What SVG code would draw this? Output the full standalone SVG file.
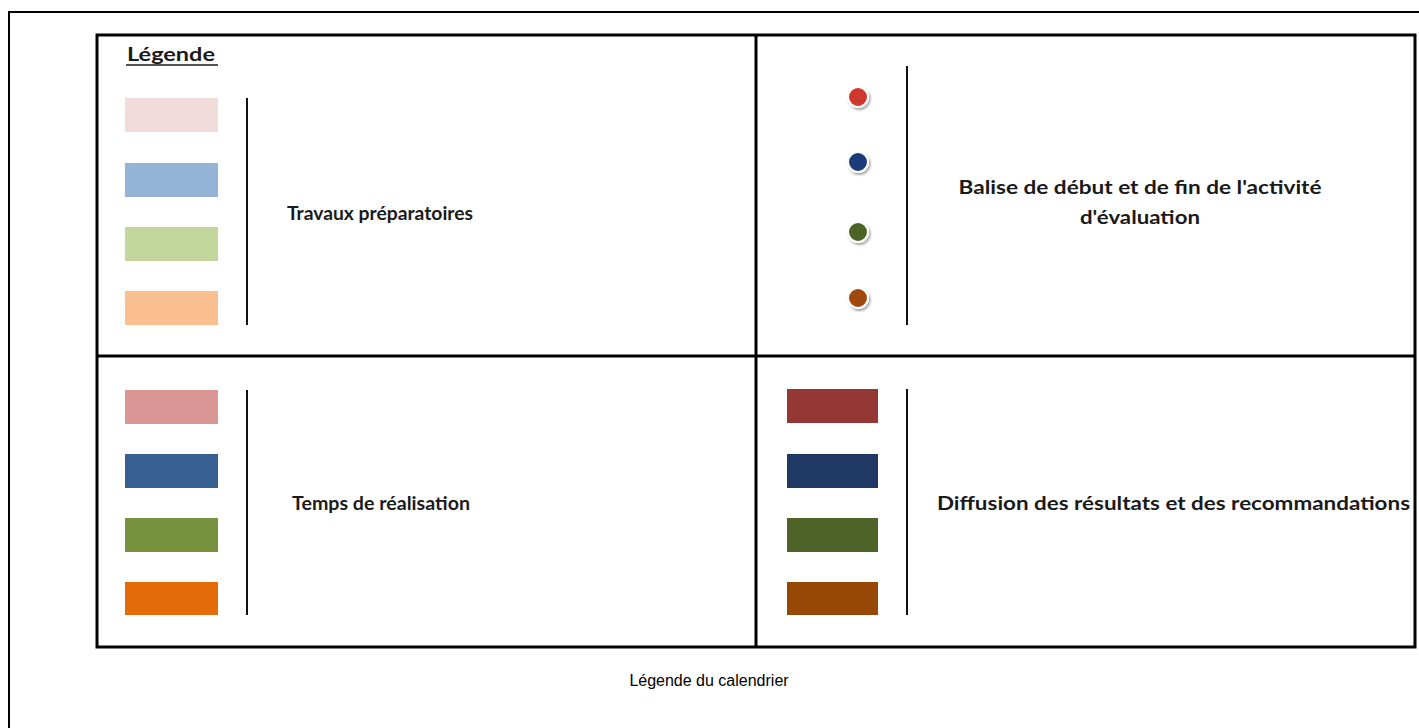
<svg xmlns="http://www.w3.org/2000/svg" width="1419" height="728" viewBox="0 0 1419 728">
<style>
.lbl{font-family:Lato,"Open Sans","Liberation Sans",sans-serif;font-weight:bold;font-size:18px;fill:#1a1a1a}
.cap{font-family:"Liberation Sans",Arial,sans-serif;font-size:16px;fill:#000}
.sep{stroke:#111;stroke-width:2}
.dot{stroke:#fff;stroke-width:2}
</style>
<defs>
<filter id="sh" x="-50%" y="-50%" width="200%" height="200%">
<feDropShadow dx="1.5" dy="2" stdDeviation="1.2" flood-color="#000" flood-opacity="0.35"/>
</filter>
</defs>
<rect x="9" y="12" width="1420" height="730" fill="#fff" stroke="#000" stroke-width="2"/>
<g id="table">
<rect x="97" y="35" width="1318" height="612" fill="#fff" stroke="#000" stroke-width="3"/>
<line x1="756" y1="35" x2="756" y2="647" stroke="#000" stroke-width="3"/>
<line x1="97" y1="356" x2="1415" y2="356" stroke="#000" stroke-width="3"/>
</g>
<g id="title">
<text x="127" y="61" class="lbl" textLength="88" lengthAdjust="spacingAndGlyphs">Légende</text>
<line x1="126" y1="65" x2="218" y2="65" stroke="#1a1a1a" stroke-width="1.5"/>
</g>
<g id="travaux">
<rect x="125" y="98" width="93" height="34" fill="#f2dcdb"/>
<rect x="125" y="163" width="93" height="34" fill="#95b3d7"/>
<rect x="125" y="227" width="93" height="34" fill="#c3d69b"/>
<rect x="125" y="291" width="93" height="34" fill="#fac090"/>
<line x1="247" y1="98" x2="247" y2="325" class="sep"/>
<text x="287" y="220" class="lbl" textLength="186" lengthAdjust="spacingAndGlyphs">Travaux préparatoires</text>
</g>
<g id="balise">
<circle cx="858" cy="97" r="10" fill="#d0392f" class="dot" filter="url(#sh)"/>
<circle cx="858" cy="162" r="10" fill="#1f3a7a" class="dot" filter="url(#sh)"/>
<circle cx="858" cy="232" r="10" fill="#4f6228" class="dot" filter="url(#sh)"/>
<circle cx="858" cy="298" r="10" fill="#a04a10" class="dot" filter="url(#sh)"/>
<line x1="907" y1="66" x2="907" y2="325" class="sep"/>
<text x="1140" y="194" class="lbl" text-anchor="middle" textLength="363" lengthAdjust="spacingAndGlyphs">Balise de début et de fin de l'activité</text>
<text x="1140" y="224" class="lbl" text-anchor="middle" textLength="120" lengthAdjust="spacingAndGlyphs">d'évaluation</text>
</g>
<g id="temps">
<rect x="125" y="390" width="93" height="34" fill="#d99694"/>
<rect x="125" y="454" width="93" height="34" fill="#366092"/>
<rect x="125" y="518" width="93" height="34" fill="#76923c"/>
<rect x="125" y="582" width="93" height="33" fill="#e36c09"/>
<line x1="247" y1="390" x2="247" y2="615" class="sep"/>
<text x="292" y="510" class="lbl" textLength="178" lengthAdjust="spacingAndGlyphs">Temps de réalisation</text>
</g>
<g id="diffusion">
<rect x="787" y="389" width="91" height="34" fill="#953735"/>
<rect x="787" y="454" width="91" height="34" fill="#1f3864"/>
<rect x="787" y="518" width="91" height="34" fill="#4f6228"/>
<rect x="787" y="582" width="91" height="33" fill="#974806"/>
<line x1="907" y1="389" x2="907" y2="615" class="sep"/>
<text x="937" y="510" class="lbl" textLength="473" lengthAdjust="spacingAndGlyphs">Diffusion des résultats et des recommandations</text>
</g>
<g id="caption">
<text x="709" y="686" class="cap" text-anchor="middle">Légende du calendrier</text>
</g>
</svg>
